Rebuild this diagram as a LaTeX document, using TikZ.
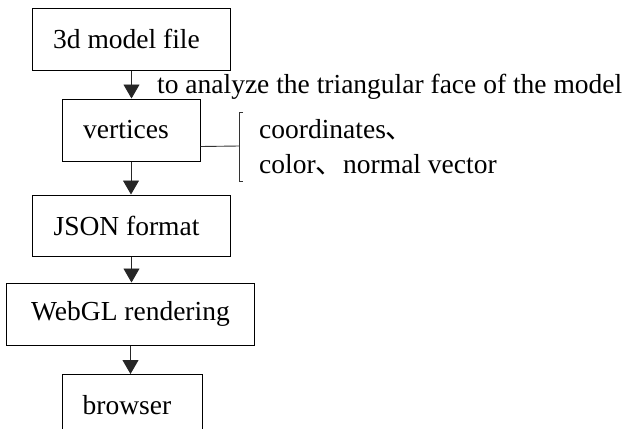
\documentclass[tikz,border=0pt]{standalone}
\usepackage{fontspec}
\setmainfont{Liberation Serif}
\newfontfamily\cjk{Noto Sans CJK SC}
\usetikzlibrary{arrows.meta}
\tikzset{
  box/.style={draw, line width=1bp, inner sep=0pt, minimum height=62bp, font=\fontsize{27.5bp}{33bp}\selectfont},
  arr/.style={draw=black!85, line width=0.9bp, -{Triangle[length=14bp,width=16bp]}},
  txt/.style={inner sep=0pt, anchor=base west, font=\fontsize{27.5bp}{33bp}\selectfont},
  brk/.style={draw=black!80, line width=0.9bp}
}
\newcommand{\lft}{\hspace*{-10bp}}
\begin{document}
\begin{tikzpicture}[x=1bp,y=-1bp]
\useasboundingbox (0,0) rectangle (632,428);
\clip (0,0) rectangle (632,428);
\node[box, minimum width=197bp] (b1) at (131.5,39) {\lft 3d model file};
\node[box, minimum width=138bp] (b2) at (131,130) {\lft vertices};
\node[box, minimum width=197bp, minimum height=61bp] (b3) at (131.5,225.5) {\lft JSON format};
\node[box, minimum width=247bp] (b4) at (130.5,314) {WebGL rendering};
\node[box, minimum width=140bp, anchor=north] (b5) at (132,374) {\lft browser};
\draw[arr] (b1.south) -- (b1.south |- b2.north);
\draw[arr] (b2.south) -- (b2.south |- b3.north);
\draw[arr] (b3.south) -- (b3.south |- b4.north);
\draw[arr] (b4.south) -- (b4.south |- b5.north);
\node[txt] (lab) at (157,93) {to analyze the triangular face of the model};
\coordinate (bt) at (239,112);
\coordinate (bb) at (239,181);
\coordinate (bm) at (239,146);
\draw[brk] ([yshift=15bp]b2.south east) -- (bm);
\draw[brk] ([xshift=4bp]bt) -- (bt) -- (bb) -- ([xshift=4bp]bb);
\node[txt] (t1) at (259,138) {coordinates{\cjk 、}};
\node[txt] (t2) at (259,173) {color{\cjk 、}normal vector};
\end{tikzpicture}
\end{document}
